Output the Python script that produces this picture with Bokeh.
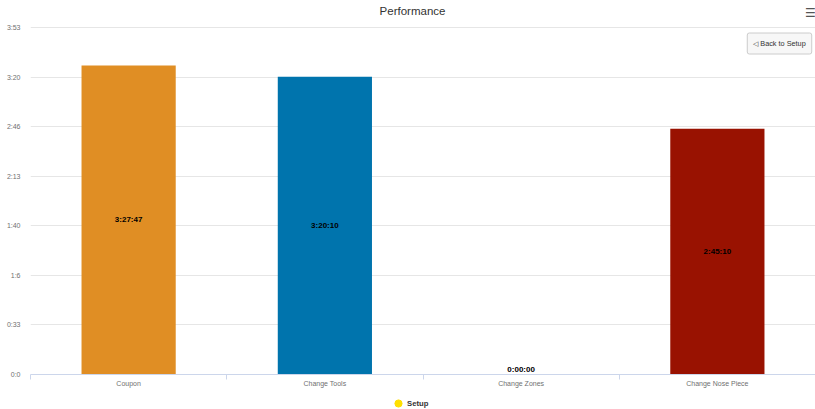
import numpy as np
from bokeh.plotting import figure
from bokeh.layouts import column
from bokeh.models import ColumnDataSource, Range1d, FixedTicker, Label, Legend, LegendItem
from bokeh.core.properties import value
from bokeh.embed import file_html
from bokeh.resources import INLINE

# --- data -------------------------------------------------------------
categories = ["Coupon", "Change Tools", "Change Zones", "Change Nose Piece"]
durations = ["3:27:47", "3:20:10", "0:00:00", "2:45:10"]          # h:mm:ss
bar_colors = ["#e08e24", "#0074ad", "#7cb5ec", "#991201"]
series_name = "Setup"
series_color = "#ffe000"

y_tick_seconds = [0, 2000, 4000, 6000, 8000, 10000, 12000, 14000]
y_tick_labels = ["0:0", "0:33", "1:6", "1:40", "2:13", "2:46", "3:20", "3:53"]


def to_seconds(hms):
    h, m, s = (int(part) for part in hms.split(":"))
    return h * 3600 + m * 60 + s


seconds = np.array([to_seconds(d) for d in durations], dtype=float)
x_pos = np.arange(len(categories)) + 0.5

FONT = "Liberation Sans"
LABEL_COLOR = "#707070"

# layout (pixels)
W = 815
PLOT_TOP = 27          # space above the highest grid line, used by the title
PLOT_H = 347           # height of the value area
AXIS_H = 16            # x-axis labels
LEGEND_H = 19          # legend strip
FRAME_H = PLOT_TOP + PLOT_H

source = ColumnDataSource(dict(
    x=x_pos,
    seconds=seconds,
    color=bar_colors,
    duration=durations,
    label_y=seconds / 2,
    label_dy=np.where(seconds > 0, 0, -5),
))

# the value range reaches past the top tick so the header sits inside the frame
y_top = y_tick_seconds[-1] * FRAME_H / PLOT_H

p = figure(
    width=W, height=FRAME_H + AXIS_H,
    x_range=Range1d(0, len(categories)),
    y_range=Range1d(y_tick_seconds[0], y_top),
    output_backend="svg", toolbar_location=None,
    min_border_left=30, min_border_right=0,
    min_border_top=0, min_border_bottom=AXIS_H,
    title=None,
)
p.outline_line_color = None
p.background_fill_color = "white"
p.border_fill_color = "white"

# bars
p.vbar(x="x", top="seconds", width=0.48, color="color", line_color=None, source=source)

# duration labels in the middle of each bar
p.text(x="x", y="label_y", text="duration", y_offset="label_dy", source=source,
       text_align="center", text_baseline="middle",
       text_font=value(FONT), text_font_style="bold", text_font_size="8px",
       text_color="#000000")

# y axis: seconds shown as h:m
p.yaxis.ticker = FixedTicker(ticks=y_tick_seconds)
p.yaxis.major_label_overrides = {t: lab for t, lab in zip(y_tick_seconds, y_tick_labels)}
p.yaxis.axis_line_color = None
p.yaxis.major_tick_line_color = None
p.yaxis.minor_tick_line_color = None
p.yaxis.major_tick_out = 0
p.yaxis.major_label_standoff = 10
p.yaxis.major_label_text_font = FONT
p.yaxis.major_label_text_font_size = "7px"
p.yaxis.major_label_text_color = LABEL_COLOR
p.ygrid.ticker = FixedTicker(ticks=y_tick_seconds)
p.ygrid.grid_line_color = "#e6e6e6"
p.xgrid.visible = False

# x axis: category names centred, separators between categories
p.xaxis.ticker = FixedTicker(ticks=list(x_pos), minor_ticks=list(range(len(categories) + 1)))
p.xaxis.major_label_overrides = {float(x): c for x, c in zip(x_pos, categories)}
p.xaxis.axis_line_color = "#ccd6eb"
p.xaxis.major_tick_line_color = None
p.xaxis.major_tick_out = 0
p.xaxis.major_tick_in = 0
p.xaxis.minor_tick_line_color = "#ccd6eb"
p.xaxis.minor_tick_out = 5
p.xaxis.minor_tick_in = 0
p.xaxis.major_label_standoff = 0
p.xaxis.major_label_text_font = FONT
p.xaxis.major_label_text_font_size = "7px"
p.xaxis.major_label_text_color = LABEL_COLOR

# title
p.add_layout(Label(x=382, y=FRAME_H - 10, x_units="screen", y_units="screen", text="Performance",
                   text_align="center", text_baseline="middle", text_font=FONT,
                   text_font_size="11.5px", text_color="#333333"))

# menu icon
p.add_layout(Label(x=780, y=FRAME_H - 12, x_units="screen", y_units="screen", text="\u2630",
                   text_align="center", text_baseline="middle", text_font="DejaVu Sans",
                   text_font_size="12px", text_font_style="bold", text_color="#555555"))

# drill-up button
p.add_layout(Label(x=749, y=FRAME_H - 43, x_units="screen", y_units="screen",
                   text="\u25c1 Back to Setup",
                   text_align="center", text_baseline="middle", text_font=FONT,
                   text_font_size="7.3px", text_color="#333333",
                   background_fill_color="#f7f7f7", border_line_color="#cccccc",
                   padding=6, border_radius=2))

# legend strip underneath
leg_fig = figure(
    width=W, height=LEGEND_H, x_range=Range1d(0, 1), y_range=Range1d(0, 1),
    output_backend="svg", toolbar_location=None, x_axis_type=None, y_axis_type=None,
    min_border=0, title=None,
)
leg_fig.outline_line_color = None
leg_fig.grid.visible = False
# legend proxy: a series marker with no visible point
legend_r = leg_fig.scatter(x=[np.nan], y=[np.nan], marker="circle", size=8,
                           color=series_color)
legend = Legend(items=[LegendItem(label=series_name, renderers=[legend_r])],
                location=(359, -3), orientation="horizontal",
                border_line_color=None, background_fill_alpha=0,
                padding=0, margin=0, spacing=0,
                glyph_width=18, glyph_height=18, label_standoff=0,
                label_text_font=FONT, label_text_font_style="bold",
                label_text_font_size="7.7px", label_text_color="#333333",
                label_height=8)
leg_fig.add_layout(legend, "center")

open("out.html", "w").write(file_html(column(p, leg_fig, spacing=0), INLINE))
